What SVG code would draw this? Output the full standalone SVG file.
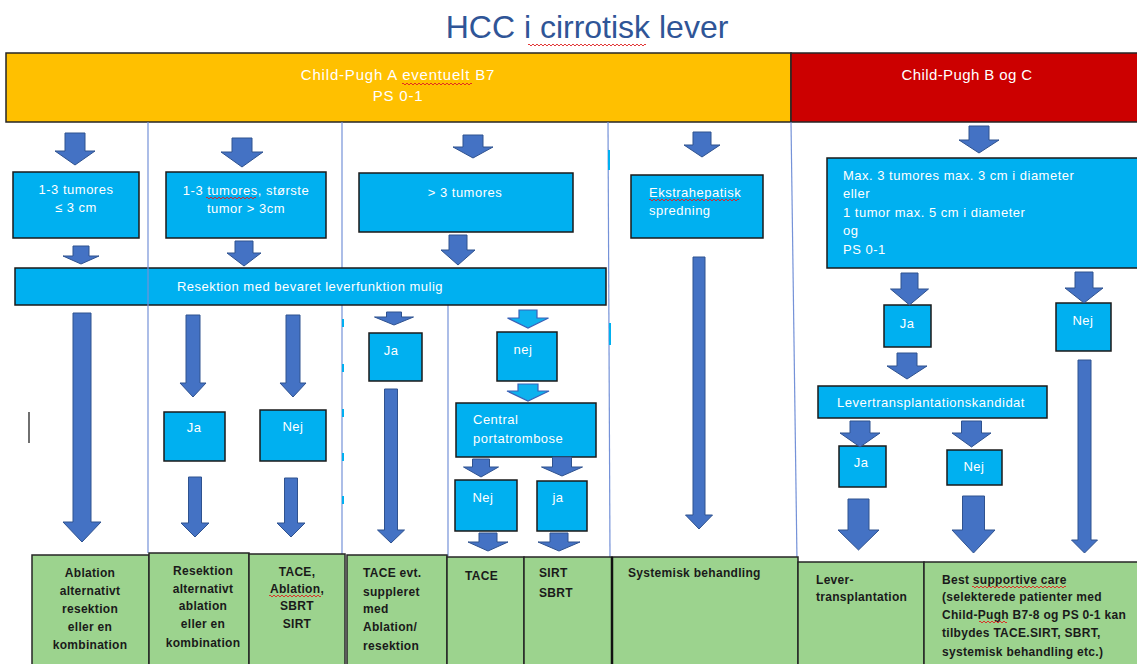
<svg xmlns="http://www.w3.org/2000/svg" width="1137" height="664" viewBox="0 0 1137 664">
<style>
.t{font-family:"Liberation Sans",Arial,sans-serif}
.title{font-size:32px;fill:#2F5597}
.hw{font-size:15px;fill:#fff;letter-spacing:0.8px}
.bx{fill:#00B0F0;stroke:#1a1a1a;stroke-width:1.5}
.wt{font-size:13px;fill:#fff;letter-spacing:0.5px}
.arr{fill:#4472C4;stroke:#2F528F;stroke-width:1}
.arc{fill:#0DB2EE;stroke:#3A62B8;stroke-width:1.2}
.vl{stroke:#7592D8;stroke-width:1.2;fill:none}
.gb{fill:#9CD38E;stroke:#262626;stroke-width:1.5}
.dt{font-size:12px;fill:#1a1a1a;font-weight:bold;letter-spacing:0.3px}
.sq{fill:none;stroke:#E02020;stroke-width:0.9}
.tick{fill:#00B0F0}
</style>
<rect width="1137" height="664" fill="#fff"/>

<g id="title">
<text class="t title" x="587" y="38" text-anchor="middle">HCC i cirrotisk lever</text>
</g>

<g id="header-a">
<rect x="6" y="53" width="785" height="69" fill="#FFC000" stroke="#262626" stroke-width="1.5"/>
<text class="t hw" x="398" y="80" text-anchor="middle">Child-Pugh A eventuelt B7</text>
<text class="t hw" x="398" y="101" text-anchor="middle">PS 0-1</text>
</g>
<g id="header-bc">
<rect x="791" y="53" width="350" height="69" fill="#CC0000" stroke="#262626" stroke-width="1.5"/>
<text class="t hw" x="967" y="80" text-anchor="middle" style="letter-spacing:0.4px">Child-Pugh B og C</text>
</g>

<g id="dividers">
<line class="vl" x1="342" y1="122" x2="342" y2="555"/>
<line class="vl" x1="608" y1="122" x2="610" y2="557"/>
<line class="vl" x1="448" y1="305" x2="448" y2="556"/>
<line class="vl" x1="791" y1="122" x2="797" y2="561"/>
<rect class="tick" x="342" y="319" width="2" height="8"/>
<rect class="tick" x="342" y="364" width="2" height="8"/>
<rect class="tick" x="342" y="409" width="2" height="8"/>
<rect class="tick" x="342" y="453" width="2" height="8"/>
<rect class="tick" x="342" y="496" width="2" height="8"/>
<rect class="tick" x="608" y="150" width="2" height="20"/>
<rect class="tick" x="609" y="323" width="2" height="22"/>
</g>

<g id="n-b1">
<rect class="bx" x="13" y="172" width="126" height="66"/>
<text class="t wt" x="76" y="194" text-anchor="middle">1-3 tumores</text>
<text class="t wt" x="76" y="212" text-anchor="middle">≤ 3 cm</text>
</g>
<g id="n-b2">
<rect class="bx" x="166" y="172" width="160" height="66"/>
<text class="t wt" x="246" y="195" text-anchor="middle">1-3 tumores, største</text>
<text class="t wt" x="246" y="213" text-anchor="middle">tumor &gt; 3cm</text>
</g>
<g id="n-b3">
<rect class="bx" x="359" y="173" width="214" height="59"/>
<text class="t wt" x="465" y="197" text-anchor="middle">&gt; 3 tumores</text>
</g>
<g id="n-b4">
<rect class="bx" x="631" y="175" width="132" height="63"/>
<text class="t wt" x="649" y="197">Ekstrahepatisk</text>
<text class="t wt" x="649" y="215">spredning</text>
</g>
<g id="n-b5">
<rect class="bx" x="827" y="158" width="314" height="110"/>
<text class="t wt" x="843" y="180">Max. 3 tumores max. 3 cm i diameter</text>
<text class="t wt" x="843" y="198">eller</text>
<text class="t wt" x="843" y="217">1 tumor max. 5 cm i diameter</text>
<text class="t wt" x="843" y="235">og</text>
<text class="t wt" x="843" y="254">PS 0-1</text>
</g>
<g id="n-res">
<rect class="bx" x="15" y="268" width="591" height="37"/>
<text class="t wt" x="310" y="291" text-anchor="middle">Resektion med bevaret leverfunktion mulig</text>
</g>
<line class="vl" x1="148" y1="122" x2="148" y2="553"/>

<g id="n-ja1">
<rect class="bx" x="164" y="412" width="61" height="49"/>
<text class="t wt" x="194" y="432" text-anchor="middle">Ja</text>
</g>
<g id="n-nej1">
<rect class="bx" x="260" y="410" width="66" height="51"/>
<text class="t wt" x="293" y="431" text-anchor="middle">Nej</text>
</g>
<g id="n-ja2">
<rect class="bx" x="369" y="333" width="53" height="48"/>
<text class="t wt" x="391" y="355" text-anchor="middle">Ja</text>
</g>
<g id="n-nej2">
<rect class="bx" x="497" y="332" width="60" height="49"/>
<text class="t wt" x="523" y="354" text-anchor="middle">nej</text>
</g>
<g id="n-central">
<rect class="bx" x="456" y="403" width="140" height="54"/>
<text class="t wt" x="473" y="424">Central</text>
<text class="t wt" x="473" y="443">portatrombose</text>
</g>
<g id="n-nej3">
<rect class="bx" x="455" y="480" width="62" height="51"/>
<text class="t wt" x="483" y="502" text-anchor="middle">Nej</text>
</g>
<g id="n-ja3">
<rect class="bx" x="537" y="481" width="50" height="50"/>
<text class="t wt" x="558" y="502" text-anchor="middle">ja</text>
</g>
<g id="n-ja4">
<rect class="bx" x="884" y="305" width="47" height="42"/>
<text class="t wt" x="907" y="328" text-anchor="middle">Ja</text>
</g>
<g id="n-nej4">
<rect class="bx" x="1056" y="303" width="55" height="48"/>
<text class="t wt" x="1083" y="325" text-anchor="middle">Nej</text>
</g>
<g id="n-lever">
<rect class="bx" x="818" y="386" width="229" height="32"/>
<text class="t wt" x="837" y="407">Levertransplantationskandidat</text>
</g>
<g id="n-ja5">
<rect class="bx" x="839" y="446" width="47" height="41"/>
<text class="t wt" x="861" y="467" text-anchor="middle">Ja</text>
</g>
<g id="n-nej5">
<rect class="bx" x="947" y="450" width="55" height="35"/>
<text class="t wt" x="974" y="471" text-anchor="middle">Nej</text>
</g>

<g id="n-g1">
<rect class="gb" x="32" y="555" width="117" height="125"/>
<text class="t dt" x="90" y="577" text-anchor="middle">Ablation</text>
<text class="t dt" x="90" y="595" text-anchor="middle">alternativt</text>
<text class="t dt" x="90" y="613" text-anchor="middle">resektion</text>
<text class="t dt" x="90" y="631" text-anchor="middle">eller en</text>
<text class="t dt" x="90" y="649" text-anchor="middle">kombination</text>
</g>
<g id="n-g2">
<rect class="gb" x="149" y="553" width="100" height="127"/>
<text class="t dt" x="203" y="575" text-anchor="middle">Resektion</text>
<text class="t dt" x="203" y="593" text-anchor="middle">alternativt</text>
<text class="t dt" x="203" y="610" text-anchor="middle">ablation</text>
<text class="t dt" x="203" y="628" text-anchor="middle">eller en</text>
<text class="t dt" x="203" y="647" text-anchor="middle">kombination</text>
</g>
<g id="n-g3">
<rect class="gb" x="249" y="554" width="96" height="126"/>
<text class="t dt" x="297" y="576" text-anchor="middle">TACE,</text>
<text class="t dt" x="297" y="593" text-anchor="middle">Ablation,</text>
<text class="t dt" x="297" y="610" text-anchor="middle">SBRT</text>
<text class="t dt" x="297" y="628" text-anchor="middle">SIRT</text>
</g>
<g id="n-g4">
<rect class="gb" x="347" y="555" width="100" height="125"/>
<text class="t dt" x="363" y="577">TACE evt.</text>
<text class="t dt" x="363" y="596">suppleret</text>
<text class="t dt" x="363" y="613">med</text>
<text class="t dt" x="363" y="631">Ablation/</text>
<text class="t dt" x="363" y="650">resektion</text>
</g>
<g id="n-g5">
<rect class="gb" x="447" y="557" width="77" height="123"/>
<text class="t dt" x="465" y="580">TACE</text>
</g>
<g id="n-g6">
<rect class="gb" x="524" y="557" width="88" height="123"/>
<text class="t dt" x="539" y="577">SIRT</text>
<text class="t dt" x="539" y="597">SBRT</text>
</g>
<g id="n-g7">
<rect class="gb" x="612" y="557" width="186" height="123"/>
<line x1="612" y1="557" x2="612" y2="680" stroke="#111" stroke-width="2.5"/>
<text class="t dt" x="628" y="577">Systemisk behandling</text>
</g>
<g id="n-g8">
<rect class="gb" x="798" y="562" width="126" height="118"/>
<text class="t dt" x="816" y="584">Lever-</text>
<text class="t dt" x="816" y="601">transplantation</text>
</g>
<g id="n-g9">
<rect class="gb" x="924" y="562" width="220" height="118"/>
<text class="t dt" x="942" y="584">Best supportive care</text>
<text class="t dt" x="942" y="601">(selekterede patienter med</text>
<text class="t dt" x="942" y="619">Child-Pugh B7-8 og PS 0-1 kan</text>
<text class="t dt" x="942" y="637">tilbydes TACE.SIRT, SBRT,</text>
<text class="t dt" x="942" y="656">systemisk behandling etc.)</text>
</g>

<g id="connectors">
<polygon class="arr" points="65,133 85,133 85,151 95,151 75,165 55,151 65,151"/>
<polygon class="arr" points="232,138 252,138 252,152 263,152 242,167 221,152 232,152"/>
<polygon class="arr" points="463,135 483,135 483,147 493,147 473,158 453,147 463,147"/>
<polygon class="arr" points="693,132 711,132 711,145 720,145 702,157 684,145 693,145"/>
<polygon class="arr" points="969,126 989,126 989,140 999,140 979,153 959,140 969,140"/>
<polygon class="arr" points="73,246 89,246 89,256 99,256 81,264 63,256 73,256"/>
<polygon class="arr" points="235,241 253,241 253,253 261,253 244,266 227,253 235,253"/>
<polygon class="arr" points="449,235 467,235 467,250 475,250 458,265 441,250 449,250"/>
<polygon class="arr" points="73,313 91,313 91,522 101,522 82,542 63,522 73,522"/>
<polygon class="arr" points="186,315 200,315 200,383 206,383 193,397 180,383 186,383"/>
<polygon class="arr" points="286,315 300,315 300,383 306,383 293,397 280,383 286,383"/>
<polygon class="arr" points="188.5,477 201.5,477 201.5,523 209,523 195,537 181,523 188.5,523"/>
<polygon class="arr" points="284.5,478 297.5,478 297.5,523 305,523 291,537 277,523 284.5,523"/>
<polygon class="arr" points="386.5,312 401.5,312 401.5,317 413.5,317 394,325 374.5,317 386.5,317"/>
<polygon class="arr" points="384.5,389 397.5,389 397.5,530 404.5,530 391,543 377.5,530 384.5,530"/>
<polygon class="arc" points="519,310 537,310 537,318 548.5,318 528,328 507.5,318 519,318"/>
<polygon class="arc" points="518,384 538,384 538,391 549,391 528,401 507,391 518,391"/>
<polygon class="arr" points="472.5,459 489.5,459 489.5,467 498.5,467 481,477 463.5,467 472.5,467"/>
<polygon class="arr" points="552.5,457 571.5,457 571.5,467 582.5,467 562,476 541.5,467 552.5,467"/>
<polygon class="arr" points="479,533 497,533 497,542 508,542 488,551 468,542 479,542"/>
<polygon class="arr" points="550,533 568,533 568,542 580,542 559,551 538,542 550,542"/>
<polygon class="arr" points="693,257 705,257 705,515 712.5,515 699,529 685.5,515 693,515"/>
<polygon class="arr" points="901,273 918,273 918,289 928.5,289 909.5,305 890.5,289 901,289"/>
<polygon class="arr" points="1075,272 1093,272 1093,288 1103,288 1084,303 1065,288 1075,288"/>
<polygon class="arr" points="897,353 917,353 917,366 927,366 907,379 887,366 897,366"/>
<polygon class="arr" points="850,421 870,421 870,433 880,433 860,447 840,433 850,433"/>
<polygon class="arr" points="961.5,421 981.5,421 981.5,433 991,433 971.5,447 952,433 961.5,433"/>
<polygon class="arr" points="848,499 869,499 869,530 879,530 858.5,550 838,530 848,530"/>
<polygon class="arr" points="962.5,496 984.5,496 984.5,530 995,530 973.5,553 952,530 962.5,530"/>
<polygon class="arr" points="1078,360 1091,360 1091,540 1097.5,540 1084.5,553 1071.5,540 1078,540"/>
</g>

<g id="artifacts">
<line x1="29" y1="412" x2="29" y2="443" stroke="#222" stroke-width="1.3"/>
<path class="sq" d="M528 45 q1 -2 2 0 t2 0 t2 0 t2 0 t2 0 t2 0 t2 0 t2 0 t2 0 t2 0 t2 0 t2 0 t2 0 t2 0 t2 0 t2 0 t2 0 t2 0 t2 0 t2 0 t2 0 t2 0 t2 0 t2 0 t2 0 t2 0 t2 0 t2 0 t2 0 t2 0 t2 0 t2 0 t2 0 t2 0 t2 0 t2 0 t2 0 t2 0 t2 0 t2 0 t2 0 t2 0 t2 0 t2 0 t2 0 t2 0 t2 0 t2 0 t2 0 t2 0 t2 0 t2 0 t2 0 t2 0 t2 0 t2 0 t2 0 t2 0 t2 0"/>
<path class="sq" d="M402 84 q1 -2 2 0 t2 0 t2 0 t2 0 t2 0 t2 0 t2 0 t2 0 t2 0 t2 0 t2 0 t2 0 t2 0 t2 0 t2 0 t2 0 t2 0 t2 0 t2 0 t2 0 t2 0 t2 0 t2 0 t2 0 t2 0 t2 0 t2 0 t2 0 t2 0 t2 0 t2 0 t2 0 t2 0 t2 0 t2 0"/>
<path class="sq" d="M206 198 q1 -2 2 0 t2 0 t2 0 t2 0 t2 0 t2 0 t2 0 t2 0 t2 0 t2 0 t2 0 t2 0 t2 0 t2 0 t2 0 t2 0 t2 0 t2 0 t2 0 t2 0 t2 0 t2 0 t2 0 t2 0 t2 0"/>
<path class="sq" d="M649 200 q1 -2 2 0 t2 0 t2 0 t2 0 t2 0 t2 0 t2 0 t2 0 t2 0 t2 0 t2 0 t2 0 t2 0 t2 0 t2 0 t2 0 t2 0 t2 0 t2 0 t2 0 t2 0 t2 0 t2 0 t2 0 t2 0 t2 0 t2 0 t2 0 t2 0 t2 0 t2 0 t2 0 t2 0 t2 0 t2 0 t2 0 t2 0 t2 0 t2 0 t2 0 t2 0 t2 0 t2 0 t2 0 t2 0"/>
<path class="sq" d="M269 596 q1 -2 2 0 t2 0 t2 0 t2 0 t2 0 t2 0 t2 0 t2 0 t2 0 t2 0 t2 0 t2 0 t2 0 t2 0 t2 0 t2 0 t2 0 t2 0 t2 0 t2 0 t2 0 t2 0 t2 0 t2 0 t2 0 t2 0"/>
<path class="sq" d="M972 587 q1 -2 2 0 t2 0 t2 0 t2 0 t2 0 t2 0 t2 0 t2 0 t2 0 t2 0 t2 0 t2 0 t2 0 t2 0 t2 0 t2 0 t2 0 t2 0 t2 0 t2 0 t2 0 t2 0 t2 0 t2 0 t2 0 t2 0 t2 0 t2 0 t2 0 t2 0 t2 0 t2 0 t2 0 t2 0 t2 0 t2 0 t2 0 t2 0 t2 0 t2 0 t2 0 t2 0 t2 0 t2 0 t2 0 t2 0 t2 0"/>
<path class="sq" d="M979 622 q1 -2 2 0 t2 0 t2 0 t2 0 t2 0 t2 0 t2 0 t2 0 t2 0 t2 0 t2 0 t2 0 t2 0 t2 0"/>
</g>
</svg>
